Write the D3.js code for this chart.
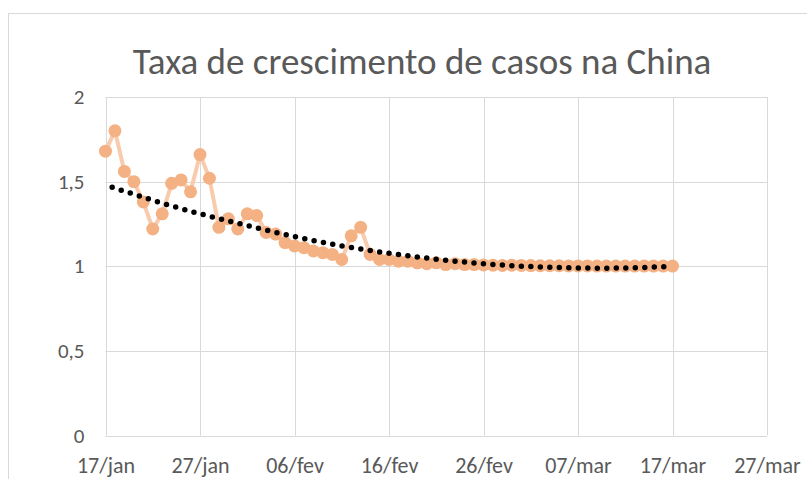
<!DOCTYPE html>
<html>
<head>
<meta charset="utf-8">
<script src="https://cdn.jsdelivr.net/npm/d3@7"></script>
<style>
  body { margin: 0; background: #fff; }
  svg text { font-family: Carlito, Calibri, Lato, sans-serif; fill: #595959; }
</style>
</head>
<body>
<svg id="chart" width="807" height="479"></svg>
<script>
// growth rate of cases, one value per day starting 17/jan
let growthRate = [1.68, 1.80, 1.56, 1.50, 1.38, 1.22, 1.31, 1.49, 1.51, 1.44,
    1.66, 1.52, 1.23, 1.28, 1.22, 1.31, 1.30, 1.20, 1.19, 1.14,
    1.12, 1.11, 1.09, 1.08, 1.07, 1.04, 1.18, 1.23, 1.07, 1.04,
    1.04, 1.03, 1.03, 1.02, 1.015, 1.02, 1.01, 1.015, 1.01, 1.01,
    1.008, 1.006, 1.005, 1.006, 1.005, 1.004, 1.003, 1.003, 1.003, 1.002,
    1.002, 1.002, 1.001, 1.001, 1.001, 1.001, 1.001, 1.001, 1.001, 1.001, 1.001];
// dotted trend line, every 5 days
let trendDays = [0, 5, 10, 15, 20, 25, 30, 35, 40, 45, 50, 55, 60];
let trendValues = [1.48, 1.39, 1.31, 1.24, 1.175, 1.12, 1.077, 1.042, 1.015, 0.998, 0.99, 0.99, 1.0];
let xTickLabels = ['17/jan', '27/jan', '06/fev', '16/fev', '26/fev', '07/mar', '17/mar', '27/mar'];
let yTicks = [0, 0.5, 1, 1.5, 2];
let title = 'Taxa de crescimento de casos na China';

let data = growthRate.map((v, i) => ({day: i, value: v}));
let trend = trendDays.map((d, i) => ({day: d, value: trendValues[i]}));

let svg = d3.select('#chart');

// chart area border (runs off the picture to the right and bottom)
svg.append('rect')
    .attr('x', 8.5).attr('y', 13.5)
    .attr('width', 900).attr('height', 600)
    .attr('fill', '#fff')
    .attr('stroke', '#d9d9d9');

let x = d3.scaleLinear().domain([0, 70]).range([105.5, 767]);
let y = d3.scaleLinear().domain([0, 2]).range([435.5, 97]);

// gridlines
let grid = svg.append('g');
grid.selectAll('.hgrid')
    .data(yTicks)
    .enter().append('line')
    .attr('x1', x(0)).attr('x2', x(70))
    .attr('y1', (d) => Math.round(y(d)) + 0.5)
    .attr('y2', (d) => Math.round(y(d)) + 0.5)
    .style('stroke', '#d9d9d9');
grid.selectAll('.vgrid')
    .data(xTickLabels)
    .enter().append('line')
    .attr('x1', (d, i) => Math.round(x(i * 10)) + 0.5)
    .attr('x2', (d, i) => Math.round(x(i * 10)) + 0.5)
    .attr('y1', y(2)).attr('y2', y(0))
    .style('stroke', '#d9d9d9');

// axes labels
let yAxis = d3.axisLeft(y).tickValues(yTicks)
    .tickFormat((d) => String(d).replace('.', ','))
    .tickSize(0).tickPadding(21);
svg.append('g')
    .attr('transform', 'translate(' + x(0) + ',0)')
    .call(yAxis)
    .call((g) => g.select('.domain').remove())
    .selectAll('text')
    .style('font-size', '21px')
    .attr('fill', '#595959');

let xAxis = d3.axisBottom(x).tickValues(d3.range(0, 71, 10))
    .tickFormat((d, i) => xTickLabels[i])
    .tickSize(0).tickPadding(22);
svg.append('g')
    .attr('transform', 'translate(0,' + y(0) + ')')
    .call(xAxis)
    .call((g) => g.select('.domain').remove())
    .selectAll('text')
    .style('font-size', '22px')
    .attr('fill', '#595959');

// data line + markers
let line = d3.line().x((d) => x(d.day)).y((d) => y(d.value));
svg.append('path')
    .datum(data)
    .attr('d', line)
    .attr('fill', 'none')
    .style('stroke', '#f8cbad')
    .style('stroke-width', 4)
    .style('stroke-linejoin', 'round');
svg.append('g').selectAll('circle')
    .data(data)
    .enter().append('circle')
    .attr('cx', (d) => x(d.day))
    .attr('cy', (d) => y(d.value))
    .attr('r', 6.5)
    .style('fill', '#f4b183');

// trend line
svg.append('path')
    .datum(trend)
    .attr('d', d3.line().x((d) => x(d.day)).y((d) => y(d.value)).curve(d3.curveNatural))
    .attr('fill', 'none')
    .style('stroke', '#000')
    .style('stroke-width', 5.5)
    .style('stroke-linecap', 'round')
    .style('stroke-dasharray', '0 9.5')
    .style('stroke-dashoffset', 2.5);

// title, fitted to the width it takes in the original
let titleText = svg.append('text')
    .attr('x', 422).attr('y', 74)
    .attr('text-anchor', 'middle')
    .style('font-size', '32px')
    .text(title);
let w = titleText.node().getComputedTextLength();
titleText.style('font-size', (32 * 579 / w).toFixed(1) + 'px');
</script>
</body>
</html>
